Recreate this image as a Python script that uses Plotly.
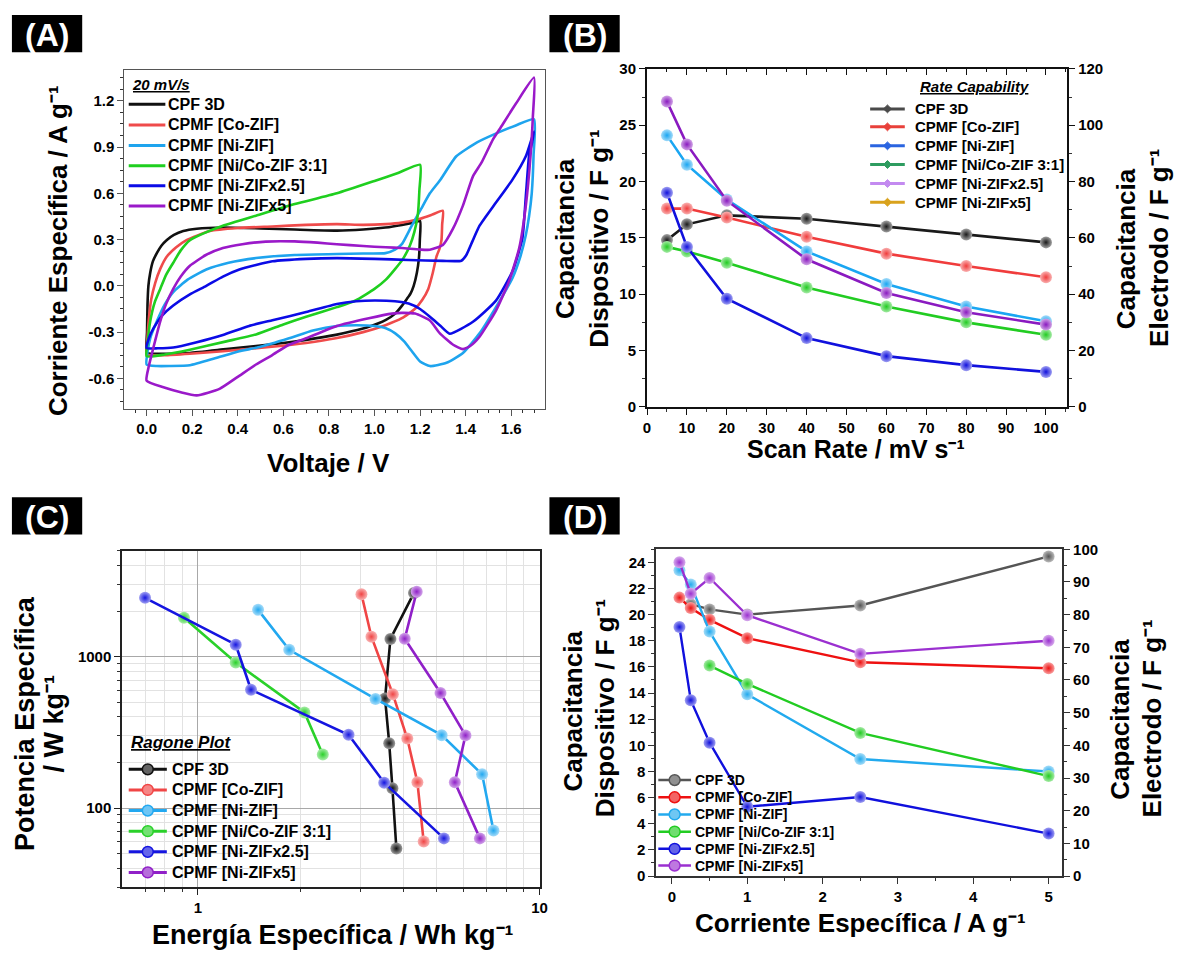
import plotly.graph_objects as go

W, H = 1186, 959
FONT = "Liberation Sans, Arial, sans-serif"


def fx(x):
    return x / W


def fy(y):
    return 1 - y / H


SERIES = ["CPF 3D", "CPMF [Co-ZIF]", "CPMF [Ni-ZIF]", "CPMF [Ni/Co-ZIF 3:1]",
          "CPMF [Ni-ZIFx2.5]", "CPMF [Ni-ZIFx5]"]

# ---------------- (A) cyclic voltammograms, 20 mV/s ----------------
cv_cpf_v = [0.0, 0.002, 0.004, 0.008, 0.016, 0.028, 0.045, 0.065, 0.089, 0.12, 0.161, 0.22, 0.335, 0.5, 0.65,
            0.835, 0.95, 1.048, 1.12, 1.17, 1.2,
            1.199, 1.195, 1.186, 1.172, 1.158, 1.142, 1.12, 1.091, 1.05, 0.975, 0.9, 0.83, 0.7, 0.6, 0.48,
            0.35, 0.19, 0.08, 0.02, 0.0]
cv_cpf_i = [-0.435, -0.3, -0.127, 0.0, 0.085, 0.16, 0.212, 0.26, 0.297, 0.33, 0.355, 0.37, 0.378, 0.372, 0.365,
            0.358, 0.365, 0.378, 0.395, 0.41, 0.42,
            0.30, 0.18, 0.085, 0.0, -0.05, -0.085, -0.13, -0.18, -0.22, -0.265, -0.295, -0.318, -0.35, -0.37,
            -0.39, -0.41, -0.435, -0.44, -0.44, -0.435]

cv_co_v = [0.0, 0.004, 0.009, 0.02, 0.038, 0.06, 0.089, 0.13, 0.175, 0.277, 0.4, 0.552, 0.7, 0.835, 0.95, 1.05,
           1.12, 1.2, 1.25, 1.3,
           1.297, 1.294, 1.285, 1.272, 1.255, 1.236, 1.21, 1.178, 1.12, 1.048, 0.95, 0.83, 0.7, 0.55, 0.335,
           0.19, 0.08, 0.02, 0.0]
cv_co_i = [-0.445, -0.33, -0.23, -0.09, 0.02, 0.11, 0.19, 0.25, 0.297, 0.355, 0.375, 0.385, 0.395, 0.40, 0.395,
           0.40, 0.41, 0.435, 0.46, 0.487,
           0.40, 0.297, 0.24, 0.19, 0.08, -0.02, -0.09, -0.148, -0.21, -0.255, -0.3, -0.34, -0.37, -0.395,
           -0.424, -0.44, -0.45, -0.45, -0.445]

cv_ni_v = [0.0, 0.005, 0.016, 0.045, 0.08, 0.117, 0.18, 0.262, 0.36, 0.48, 0.65, 0.835, 0.95, 1.048, 1.09, 1.12,
           1.16, 1.205, 1.243, 1.29, 1.359, 1.45, 1.537, 1.62, 1.70,
           1.698, 1.69, 1.678, 1.664, 1.64, 1.606, 1.533, 1.461, 1.388, 1.316, 1.243, 1.2, 1.164, 1.13, 1.091,
           1.05, 1.0, 0.92, 0.835, 0.73, 0.625, 0.5, 0.407, 0.3, 0.19, 0.1, 0.045, 0.0]
cv_ni_i = [-0.51, -0.42, -0.34, -0.23, -0.12, -0.04, 0.04, 0.106, 0.15, 0.18, 0.2, 0.206, 0.21, 0.212, 0.235,
           0.27, 0.38, 0.5, 0.6, 0.69, 0.84, 0.93, 0.99, 1.04, 1.08,
           0.85, 0.6, 0.45, 0.33, 0.19, 0.053, -0.138, -0.308, -0.435, -0.499, -0.52, -0.49, -0.424, -0.36,
           -0.308, -0.275, -0.26, -0.255, -0.26, -0.29, -0.34, -0.395, -0.424, -0.47, -0.515, -0.52, -0.52, -0.51]

cv_nico_v = [0.0, 0.005, 0.016, 0.035, 0.06, 0.085, 0.117, 0.15, 0.19, 0.25, 0.335, 0.48, 0.65, 0.835, 1.0, 1.1,
             1.2,
             1.197, 1.19, 1.175, 1.155, 1.125, 1.091, 1.05, 1.0, 0.917, 0.835, 0.7, 0.6, 0.48, 0.35, 0.19, 0.08,
             0.0]
cv_nico_i = [-0.456, -0.36, -0.23, -0.11, -0.02, 0.07, 0.15, 0.23, 0.296, 0.34, 0.39, 0.455, 0.53, 0.6, 0.68,
             0.73, 0.785,
             0.62, 0.46, 0.35, 0.26, 0.175, 0.11, 0.04, -0.02, -0.095, -0.138, -0.2, -0.25, -0.315, -0.36,
             -0.414, -0.445, -0.456]

cv_x25_v = [0.0, 0.01, 0.03, 0.07, 0.117, 0.19, 0.262, 0.335, 0.407, 0.48, 0.552, 0.7, 0.835, 1.0, 1.15, 1.3,
            1.381, 1.403, 1.43, 1.461, 1.533, 1.606, 1.664, 1.70,
            1.69, 1.678, 1.665, 1.649, 1.606, 1.533, 1.432, 1.33, 1.29, 1.243, 1.2, 1.15, 1.09, 1.0, 0.92,
            0.835, 0.7, 0.552, 0.45, 0.335, 0.22, 0.117, 0.05, 0.0]
cv_x25_i = [-0.403, -0.34, -0.276, -0.19, -0.127, -0.055, 0.0, 0.06, 0.106, 0.135, 0.159, 0.175, 0.18, 0.175,
            0.168, 0.162, 0.163, 0.2, 0.29, 0.39, 0.54, 0.69, 0.84, 1.0,
            0.92, 0.84, 0.6, 0.31, 0.096, -0.096, -0.233, -0.31, -0.26, -0.2, -0.15, -0.115, -0.1, -0.095,
            -0.1, -0.117, -0.17, -0.223, -0.26, -0.318, -0.365, -0.4, -0.405, -0.403]

cv_x5_v = [0.0, 0.01, 0.03, 0.06, 0.085, 0.117, 0.15, 0.19, 0.26, 0.335, 0.42, 0.523, 0.65, 0.75, 0.835, 0.95,
           1.05, 1.12, 1.2, 1.243, 1.3, 1.345, 1.388, 1.432, 1.47, 1.52, 1.555, 1.62, 1.70,
           1.695, 1.685, 1.664, 1.635, 1.591, 1.533, 1.461, 1.42, 1.388, 1.345, 1.287, 1.243, 1.178, 1.12,
           1.077, 0.975, 0.835, 0.7, 0.625, 0.55, 0.48, 0.4, 0.32, 0.22, 0.15, 0.074, 0.0]
cv_x5_i = [-0.615, -0.52, -0.40, -0.23, -0.12, -0.02, 0.06, 0.13, 0.2, 0.245, 0.27, 0.287, 0.288, 0.28, 0.27,
           0.258, 0.25, 0.245, 0.235, 0.234, 0.265, 0.372, 0.52, 0.71, 0.8, 0.95, 1.03, 1.18, 1.35,
           1.1, 0.85, 0.52, 0.245, 0.032, -0.16, -0.33, -0.39, -0.41, -0.382, -0.308, -0.225, -0.18, -0.175,
           -0.18, -0.21, -0.26, -0.34, -0.382, -0.45, -0.51, -0.59, -0.668, -0.71, -0.69, -0.658, -0.615]

# ---------------- (B) rate capability ----------------
scan_rate = [5, 10, 20, 40, 60, 80, 100]
rc_cpf = [14.8, 16.2, 17.0, 16.7, 16.0, 15.3, 14.6]
rc_co = [17.6, 17.6, 16.8, 15.1, 13.6, 12.5, 11.5]
rc_ni = [24.1, 21.5, 18.4, 13.8, 10.9, 8.9, 7.6]
rc_nico = [14.2, 13.8, 12.8, 10.6, 8.9, 7.5, 6.4]
rc_x25 = [19.0, 14.2, 9.6, 6.1, 4.5, 3.7, 3.1]
rc_x5 = [27.1, 23.3, 18.3, 13.1, 10.1, 8.4, 7.3]

# ---------------- (C) Ragone plot ----------------
rag_cpf_e = [4.29, 3.66, 3.53, 3.63, 3.71, 3.81]
rag_cpf_p = [2640, 1310, 530, 268, 135, 54]
rag_co_e = [3.01, 3.22, 3.72, 4.10, 4.39, 4.58]
rag_co_p = [2590, 1355, 565, 288, 148, 60]
rag_ni_e = [1.50, 1.85, 3.31, 5.17, 6.79, 7.33]
rag_ni_p = [2040, 1110, 526, 303, 167, 71]
rag_nico_e = [0.91, 1.29, 2.05, 2.32]
rag_nico_p = [1810, 914, 428, 226]
rag_x25_e = [0.70, 1.29, 1.43, 2.76, 3.51, 5.25]
rag_x25_p = [2450, 1200, 605, 305, 147, 63]
rag_x5_e = [4.37, 4.03, 5.13, 6.07, 5.65, 6.69]
rag_x5_p = [2690, 1314, 575, 302, 148, 63]

# ---------------- (D) capacitance vs specific current ----------------
cur_all = [0.1, 0.25, 0.5, 1, 2.5, 5]
cur_cpf = [0.25, 0.5, 1, 2.5, 5]
cur_nico = [0.5, 1, 2.5, 5]
gcd_cpf = [20.8, 20.4, 20.0, 20.7, 24.45]
gcd_co = [21.3, 20.5, 19.6, 18.2, 16.35, 15.9]
gcd_ni = [23.4, 22.3, 18.7, 13.9, 8.95, 8.0]
gcd_nico = [16.1, 14.7, 10.95, 7.65]
gcd_x25 = [19.05, 13.45, 10.2, 5.3, 6.05, 3.25]
gcd_x5 = [24.0, 21.6, 22.8, 19.95, 17.0, 18.0]

COL_A = ["#111111", "#ef4b4b", "#1ea4ee", "#1fcf1f", "#0b0be6", "#9a19c9"]
COL_B = ["#1a1a1a", "#f03c3c", "#1aa6f2", "#22cc22", "#1111dd", "#8a1ac0"]
COL_B_KEY = ["#4a4a4a", "#e8403a", "#2a64e0", "#2e9c60", "#c38af0", "#d9a21c"]
COL_C = ["#111111", "#f04545", "#22a8f0", "#2ad12a", "#1515e0", "#9020c8"]
COL_D = ["#555555", "#ee1111", "#22aaee", "#22cc22", "#1010dd", "#9b30d0"]

INV = "\u207b\u00b9"  # superscript "-1"


def lighten(hexcol, f):
    h = hexcol.lstrip("#")
    r, g, b = (int(h[i:i + 2], 16) for i in (0, 2, 4))
    r, g, b = (int(c + (255 - c) * f) for c in (r, g, b))
    return "#%02x%02x%02x" % (r, g, b)


def ball(col, size=12):
    return dict(size=size, color=lighten(col, 0.6),
                gradient=dict(type="radial", color=col), line=dict(width=0))


fig = go.Figure()

cv_sets = [(cv_cpf_v, cv_cpf_i), (cv_co_v, cv_co_i), (cv_ni_v, cv_ni_i), (cv_nico_v, cv_nico_i),
           (cv_x25_v, cv_x25_i), (cv_x5_v, cv_x5_i)]
for (v, i), name, col in zip(cv_sets, SERIES, COL_A):
    fig.add_trace(go.Scatter(x=v, y=i, name=name, mode="lines", xaxis="x", yaxis="y",
                             line=dict(color=col, width=2.6, shape="spline", smoothing=0.5)))

for ys, name, col in zip([rc_cpf, rc_co, rc_ni, rc_nico, rc_x25, rc_x5], SERIES, COL_B):
    fig.add_trace(go.Scatter(x=scan_rate, y=ys, name=name, mode="lines+markers", xaxis="x2", yaxis="y2",
                             line=dict(color=col, width=2.6), marker=ball(col, 12)))

rag_sets = [(rag_cpf_e, rag_cpf_p), (rag_co_e, rag_co_p), (rag_ni_e, rag_ni_p), (rag_nico_e, rag_nico_p),
            (rag_x25_e, rag_x25_p), (rag_x5_e, rag_x5_p)]
for (e, p), name, col in zip(rag_sets, SERIES, COL_C):
    fig.add_trace(go.Scatter(x=e, y=p, name=name, mode="lines+markers", xaxis="x3", yaxis="y4",
                             line=dict(color=col, width=2.6), marker=ball(col, 12)))

gcd_sets = [(cur_cpf, gcd_cpf), (cur_all, gcd_co), (cur_all, gcd_ni), (cur_nico, gcd_nico),
            (cur_all, gcd_x25), (cur_all, gcd_x5)]
for (x, y), name, col in zip(gcd_sets, SERIES, COL_D):
    fig.add_trace(go.Scatter(x=x, y=y, name=name, mode="lines+markers", xaxis="x4", yaxis="y5",
                             line=dict(color=col, width=2.4), marker=ball(col, 12)))

# empty carriers so that the secondary (electrode / top) axes get rendered
for xa, ya in [("x2", "y3"), ("x5", "y2"), ("x4", "y6")]:
    fig.add_trace(go.Scatter(x=[None], y=[None], xaxis=xa, yaxis=ya, mode="lines",
                             hoverinfo="skip", showlegend=False))

TICKFONT = dict(family=FONT, size=15, color="black", weight="bold")


def axis(domain, rng, anchor, line="#333", lw=1.6, **kw):
    d = dict(domain=domain, range=rng, anchor=anchor, showline=True, linecolor=line, linewidth=lw,
             mirror=True, ticks="outside", ticklen=6, tickwidth=1.4, tickcolor=line,
             showgrid=False, zeroline=False, tickfont=TICKFONT)
    d.update(kw)
    return d


A_Y_TICKS = [-0.6, -0.3, 0.0, 0.3, 0.6, 0.9, 1.2]
A_X_TICKS = [0.0, 0.2, 0.4, 0.6, 0.8, 1.0, 1.2, 1.4, 1.6]
C_X_TICKS = [1, 10]
C_Y_TICKS = [100, 1000]


def minor(d, l=3, side="outside", col="#333"):
    return dict(ticks=side, ticklen=l, tickcolor=col, tickmode="linear", tick0=0, dtick=d)


fig.update_layout(
    width=W, height=H, margin=dict(l=0, r=0, t=0, b=0),
    paper_bgcolor="white", plot_bgcolor="white", showlegend=False,
    font=dict(family=FONT, color="black"),
    # (A)
    xaxis=axis([fx(121.7), fx(546.5)], [-0.097, 1.748], "y", line="#555", lw=1.3,
               tickvals=A_X_TICKS, ticktext=["%.1f" % t for t in A_X_TICKS], minor=minor(0.05)),
    yaxis=axis([fy(407), fy(62)], [-0.797, 1.40], "x", line="#555", lw=1.3,
               tickvals=A_Y_TICKS, ticktext=["%.1f" % t for t in A_Y_TICKS], minor=minor(0.075)),
    # (B): device scale on the left, electrode scale on the right, inner ticks on top
    xaxis2=axis([fx(649.6), fx(1074)], [0, 105.3], "y2", line="#111", lw=2,
                tick0=0, dtick=10, minor=minor(5)),
    yaxis2=axis([fy(405), fy(61)], [0, 30], "x2", line="#111", lw=2, tick0=0, dtick=5, minor=minor(2.5)),
    yaxis3=axis([fy(405), fy(61)], [0, 120], "x2", line="#111", lw=2, side="right", mirror=False,
                overlaying="y2", tick0=0, dtick=20, minor=minor(10)),
    xaxis5=axis([fx(649.6), fx(1074)], [0, 105.3], "y2", line="#111", lw=2, side="top", mirror=False,
                overlaying="x2", ticks="inside", showticklabels=False, tick0=0, dtick=10,
                minor=minor(5, side="inside", col="#111")),
    # (C)
    xaxis3=axis([fx(119.4), fx(541)], [-0.2218, 1.0], "y4", line="#222", lw=1.8, type="log",
                tickvals=C_X_TICKS, ticktext=[str(t) for t in C_X_TICKS],
                showgrid=True, gridcolor="#a8a8a8", gridwidth=1,
                minor=dict(ticks="outside", ticklen=3, tickcolor="#333", dtick="D1",
                           showgrid=True, gridcolor="#e2e2e2")),
    yaxis4=axis([fy(894), fy(551.7)], [1.477, 3.699], "x3", line="#222", lw=1.8, type="log",
                tickvals=C_Y_TICKS, ticktext=[str(t) for t in C_Y_TICKS],
                showgrid=True, gridcolor="#a8a8a8", gridwidth=1,
                minor=dict(ticks="outside", ticklen=3, tickcolor="#333", dtick="D1",
                           showgrid=True, gridcolor="#e2e2e2")),
    # (D): device scale on the left, electrode scale on the right
    xaxis4=axis([fx(659), fx(1069)], [-0.207, 5.18], "y5", line="#333", lw=1.8,
                tick0=0, dtick=1, minor=minor(0.5)),
    yaxis5=axis([fy(882.7), fy(550)], [0, 25], "x4", line="#333", lw=1.8, tick0=0, dtick=2, minor=minor(1)),
    yaxis6=axis([fy(882.7), fy(550)], [0, 100], "x4", line="#333", lw=1.8, side="right", mirror=False,
                overlaying="y5", tick0=0, dtick=10, minor=minor(5)),
)

shapes = []
annotations = []


def text(x, y, s, size, angle=0, color="black", xanchor="center", **fontkw):
    f = dict(family=FONT, size=size, color=color, weight="bold")
    f.update(fontkw)
    annotations.append(dict(x=fx(x), y=fy(y), xref="paper", yref="paper", text=s, showarrow=False,
                            textangle=angle, xanchor=xanchor, yanchor="middle", font=f))


# panel badges
for label, x0, y0 in [("(A)", 8, 6), ("(B)", 551, 6), ("(C)", 8, 497), ("(D)", 551, 497)]:
    shapes.append(dict(type="rect", xref="paper", yref="paper", x0=fx(x0), x1=fx(x0 + 71),
                       y0=fy(y0 + 38), y1=fy(y0), fillcolor="black", line=dict(width=0)))
    text(x0 + 35.5, y0 + 20, label, 32, color="white")

# axis titles
text(54, 246, "Corriente Específica / A g" + INV, 26, angle=-90)
text(328, 462, "Voltaje / V", 26)
text(861, 448, "Scan Rate / mV s" + INV, 25)
text(567, 234, "Capacitancia", 26, angle=-90)
text(601, 234, "Dispositivo / F g" + INV, 26, angle=-90)
text(1133, 244, "Capacitancia", 26, angle=-90)
text(1166, 243, "Electrodo / F g" + INV, 26, angle=-90)
text(21, 727, "Potencia Específica", 27, angle=-90)
text(51, 727, "/ W kg" + INV, 27, angle=-90)
text(332, 943, "Energía Específica / Wh kg" + INV, 27)
text(865, 930, "Corriente Específica / A g" + INV, 26)
text(575, 715, "Capacitancia", 26, angle=-90)
text(608, 712, "Dispositivo / F g" + INV, 26, angle=-90)
text(1128, 723, "Capacitancia", 26, angle=-90)
text(1160, 722, "Electrodo / F g" + INV, 26, angle=-90)


def key(x0, x1, xt, ys, colors, size, mark=None, r=5, lw=3):
    for y, lab, c in zip(ys, SERIES, colors):
        shapes.append(dict(type="line", xref="paper", yref="paper", x0=fx(x0), x1=fx(x1),
                           y0=fy(y), y1=fy(y), line=dict(color=c, width=lw)))
        cx = (x0 + x1) / 2
        if mark == "ball":
            shapes.append(dict(type="circle", xref="paper", yref="paper", x0=fx(cx - r), x1=fx(cx + r),
                               y0=fy(y + r), y1=fy(y - r), fillcolor=lighten(c, 0.35),
                               line=dict(color=c, width=1.5)))
        elif mark == "diamond":
            pts = [(cx, y - r), (cx + r, y), (cx, y + r), (cx - r, y)]
            path = "M " + " L ".join("%f,%f" % (fx(a), fy(b)) for a, b in pts) + " Z"
            shapes.append(dict(type="path", xref="paper", yref="paper", path=path,
                               fillcolor=c, line=dict(color=c, width=1)))
        text(xt, y, lab, size, xanchor="left")


# (A) key
text(127, 77, "20 mV/s", 15, xanchor="left", style="italic", lineposition="under")
key(126, 163, 164, [97, 118, 139, 159.5, 180, 200.5], COL_A, 16)
# (B) key
text(923, 79, "Rate Capability", 15, xanchor="left", style="italic", lineposition="under")
key(875, 910, 918, [101.7, 120, 139.3, 158.3, 177.7, 196.7], COL_B_KEY, 15, mark="diamond", r=4)
# (C) key
text(126, 747, "Ragone Plot", 17, xanchor="left", style="italic", lineposition="under")
key(126, 164.5, 167.6, [774, 795, 816, 837, 858, 879], COL_C, 16, mark="ball", r=5.5)
# (D) key
key(661, 694, 696, [785, 802.5, 820, 837.5, 855, 872], COL_D, 14, mark="ball", r=5.5, lw=2.5)

fig.update_layout(shapes=shapes, annotations=annotations)
fig.write_html("out.html")
